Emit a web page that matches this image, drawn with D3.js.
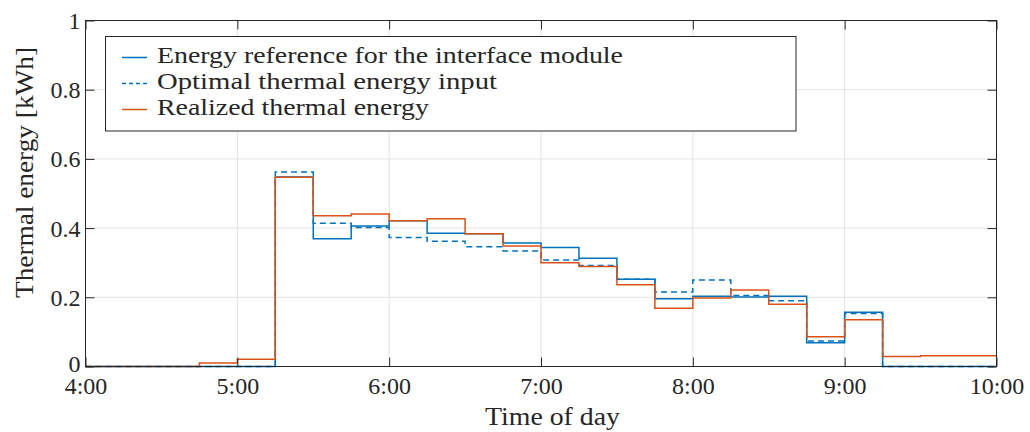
<!DOCTYPE html>
<html><head><meta charset="utf-8">
<script src="https://cdn.jsdelivr.net/npm/d3@7"></script>
<style>
html,body{margin:0;padding:0;background:#fff;}
svg text{font-family:"Liberation Serif","DejaVu Serif",serif;fill:#262626;}
</style></head>
<body><svg id="c" width="1030" height="432"></svg>
<script>
// 15-minute bins from 4:00 to 10:00 (bin start times in hours)
const binStarts = d3.range(24).map(i => 4 + i * 0.25);
const energyReference = [0,0,0,0,0,0.548,0.369,0.406,0.421,0.385,0.384,0.357,0.344,0.313,0.252,0.196,0.203,0.201,0.203,0.069,0.157,0,0,0];
const optimalInput    = [0,0,0,0,0,0.562,0.414,0.402,0.373,0.362,0.346,0.334,0.308,0.292,0.252,0.215,0.250,0.205,0.190,0.074,0.153,0,0,0];
const realizedEnergy  = [0,0,0,0.010,0.021,0.547,0.436,0.441,0.421,0.427,0.384,0.348,0.300,0.289,0.236,0.168,0.198,0.221,0.180,0.086,0.135,0.029,0.031,0.031];
const xTicks = [4,5,6,7,8,9,10];
const xTickLabels = ["4:00","5:00","6:00","7:00","8:00","9:00","10:00"];
const yTicks = [0,0.2,0.4,0.6,0.8,1];
const yTickLabels = ["0","0.2","0.4","0.6","0.8","1"];
const seriesNames = ["Energy reference for the interface module","Optimal thermal energy input","Realized thermal energy"];

(function(){
const svg = d3.select("#c");
const L = 85.5, R = 996.5, T = 20.5, B = 366.5;
const x = d3.scaleLinear().domain([4,10]).range([L,R]);
const y = d3.scaleLinear().domain([0,1]).range([B,T]);
const axisColor = "#262626";

// grid
const g = svg.append("g");
g.selectAll(".gx").data(xTicks.slice(1,-1)).join("line")
  .attr("x1",d=>x(d)).attr("x2",d=>x(d)).attr("y1",T).attr("y2",B)
  .attr("stroke","#e3e3e3").attr("stroke-width",1);
g.selectAll(".gy").data(yTicks.slice(1,-1)).join("line")
  .attr("x1",L).attr("x2",R).attr("y1",d=>y(d)).attr("y2",d=>y(d))
  .attr("stroke","#e3e3e3").attr("stroke-width",1);

// series
function stepData(vals){ const d = binStarts.map((t,i)=>[t,vals[i]]); d.push([10, vals[vals.length-1]]); return d; }
const line = d3.line().x(d=>x(d[0])).y(d=>y(d[1])).curve(d3.curveStepAfter);
const series = [
  {vals: energyReference, color:"#0072BD", dash:null},
  {vals: optimalInput, color:"#0072BD", dash:"6,4"},
  {vals: realizedEnergy, color:"#D95319", dash:null}
];
series.forEach(s=>{
  svg.append("path").attr("d",line(stepData(s.vals))).attr("fill","none")
    .attr("stroke",s.color).attr("stroke-width",1.5)
    .attr("stroke-dasharray",s.dash);
});

// axes box and ticks
const tickLen = 9;
const axB = d3.axisBottom(x).tickValues(xTicks).tickFormat((d,i)=>xTickLabels[i]).tickSize(-tickLen).tickPadding(0);
const axT = d3.axisTop(x).tickValues(xTicks).tickFormat("").tickSize(-tickLen);
const axL = d3.axisLeft(y).tickValues(yTicks).tickFormat((d,i)=>yTickLabels[i]).tickSize(-tickLen).tickPadding(5);
const axR = d3.axisRight(y).tickValues(yTicks).tickFormat("").tickSize(-tickLen);
function style(sel){ sel.selectAll("path").attr("stroke",axisColor).attr("stroke-width",1);
  sel.selectAll("line").attr("stroke",axisColor).attr("stroke-width",1);
  sel.selectAll("text").attr("fill",axisColor).style("font-size","24px").style("font-family",'"Liberation Serif",serif'); }
svg.append("g").attr("transform",`translate(0,${B})`).call(axB).call(style)
  .call(s=>s.selectAll("text").attr("y",27).attr("dy",null));
svg.append("g").attr("transform",`translate(0,${T})`).call(axT).call(style);
svg.append("g").attr("transform",`translate(${L},0)`).call(axL).call(style)
  .call(s=>s.selectAll("text").attr("dy",(d,i)=> i===0 ? "0.22em" : "0.33em"));
svg.append("g").attr("transform",`translate(${R},0)`).call(axR).call(style);
svg.selectAll(".domain").remove();
svg.append("rect").attr("x",L).attr("y",T).attr("width",R-L).attr("height",B-T)
  .attr("fill","none").attr("stroke",axisColor).attr("stroke-width",1);

// axis labels
svg.append("text").attr("x",552.5).attr("y",425).attr("text-anchor","middle")
  .attr("textLength",135).attr("lengthAdjust","spacingAndGlyphs")
  .style("font-size","26px").text("Time of day");
svg.append("text").attr("transform",`translate(33,172.5) rotate(-90)`).attr("text-anchor","middle")
  .attr("textLength",251).attr("lengthAdjust","spacingAndGlyphs")
  .style("font-size","26px").text("Thermal energy [kWh]");

// legend
const lg = svg.append("g");
lg.append("rect").attr("x",105.5).attr("y",36.5).attr("width",690.5).attr("height",94.5)
  .attr("fill","#fff").attr("stroke",axisColor).attr("stroke-width",1);
const legendWidths = [466, 340, 272];
series.forEach((s,i)=>{
  const base = 63 + i*26;
  lg.append("line").attr("x1",122).attr("x2",147).attr("y1",base-5.5).attr("y2",base-5.5)
    .attr("stroke",s.color).attr("stroke-width",1.5).attr("stroke-dasharray",s.dash?"4,3":null);
  lg.append("text").attr("x",157).attr("y",base).style("font-size","23.5px")
    .attr("textLength",legendWidths[i]).attr("lengthAdjust","spacingAndGlyphs").text(seriesNames[i]);
});
})();
</script></body></html>
